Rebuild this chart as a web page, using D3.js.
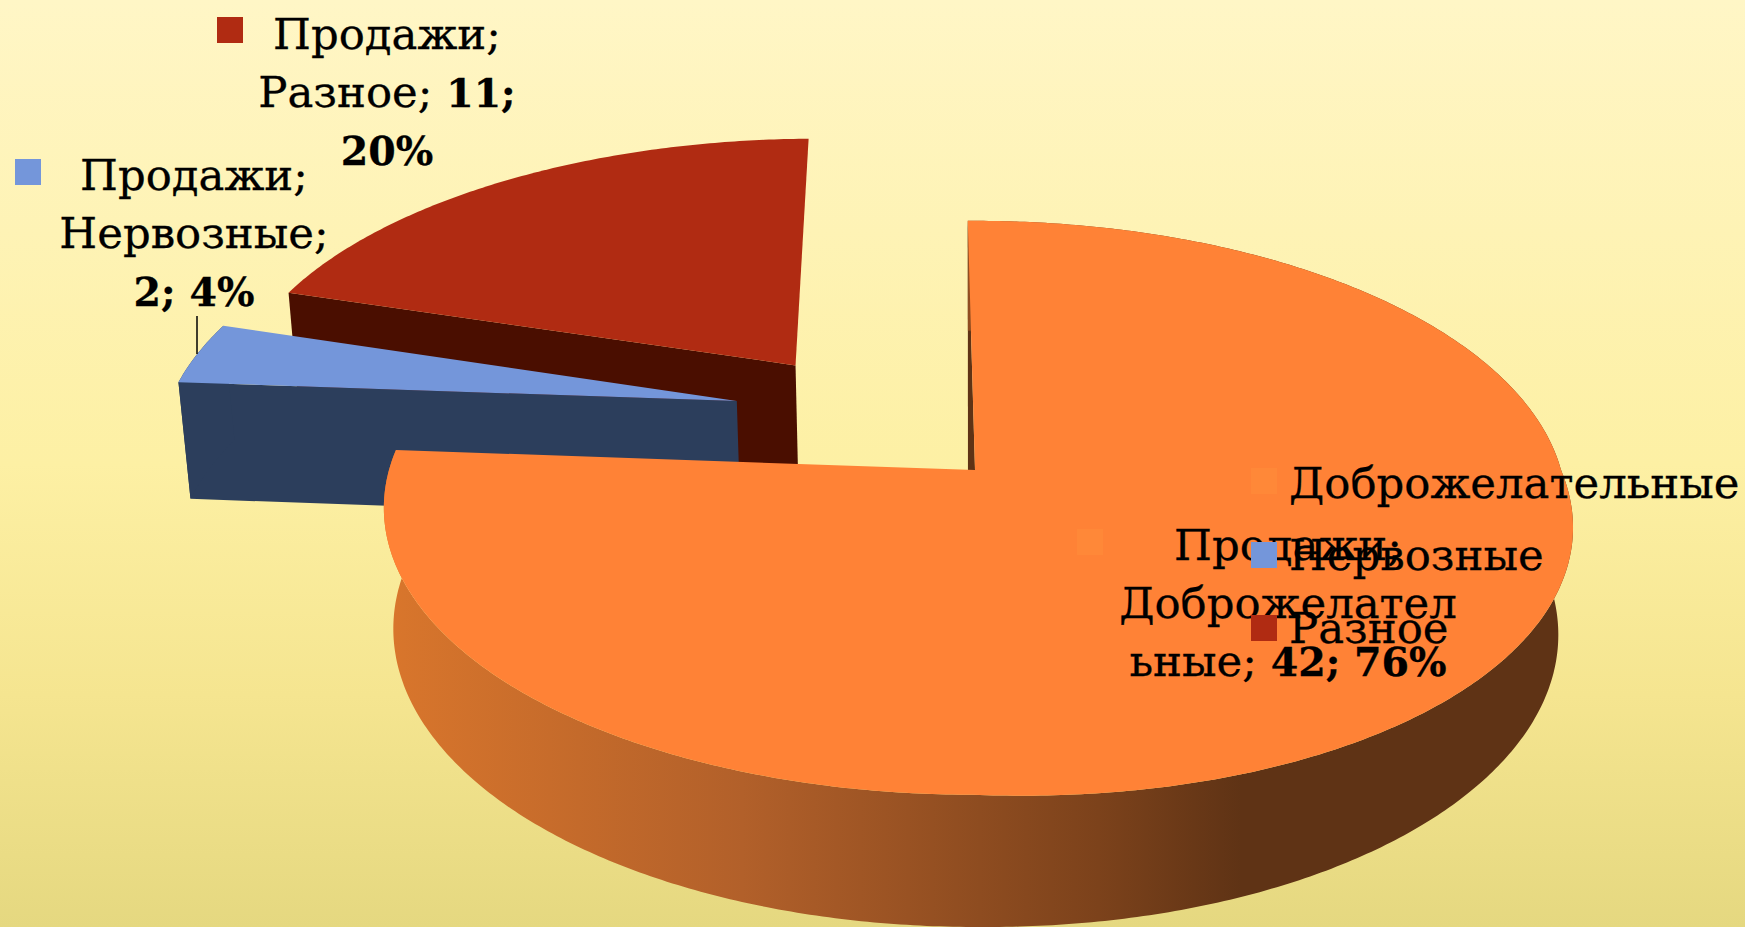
<!DOCTYPE html>
<html>
<head>
<meta charset="utf-8">
<script src="https://cdn.jsdelivr.net/npm/d3@7"></script>
<style>
    html, body { margin: 0; padding: 0; overflow: hidden; }
    svg { display: block; }
    text { font-family: "DejaVu Serif", serif; fill: #000; stroke: #000; stroke-width: 0.3px; }
</style>
</head>
<body>
<div id="chart"></div>
<script>
const seriesName = "Продажи";
const categories = ["Доброжелательные", "Нервозные", "Разное"];
const values = [42, 2, 11];
// how far each slice was pulled out of the pie, in pie radii
const pullX = [0, -0.42, -0.322];
const pullY = [0, -0.2528, -0.39];

const width = 1745, height = 927;
const topColors = ["#ff8236", "#7496da", "#b02b12"];
const sideColors = ["#5f3315", "#2c3e5c", "#4a0e00"];
const markerColors = ["#ff8838", "#7496da", "#b02b12"];

const svg = d3.select("#chart").append("svg")
    .attr("width", width)
    .attr("height", height);

const defs = svg.append("defs");

const bg = defs.append("linearGradient")
    .attr("id", "bg")
    .attr("x1", 0).attr("y1", 0).attr("x2", 0).attr("y2", 1);
bg.append("stop").attr("offset", "0%").attr("stop-color", "#fff6c6");
bg.append("stop").attr("offset", "50%").attr("stop-color", "#fdf0a4");
bg.append("stop").attr("offset", "75%").attr("stop-color", "#f5e590");
bg.append("stop").attr("offset", "100%").attr("stop-color", "#e5d880");

const wall = defs.append("linearGradient")
    .attr("id", "wall")
    .attr("gradientUnits", "userSpaceOnUse")
    .attr("x1", 386).attr("y1", 0).attr("x2", 1574).attr("y2", 0);
wall.append("stop").attr("offset", "0%").attr("stop-color", "#d9762c");
wall.append("stop").attr("offset", "30%").attr("stop-color", "#b2602a");
wall.append("stop").attr("offset", "60%").attr("stop-color", "#7c421b");
wall.append("stop").attr("offset", "72%").attr("stop-color", "#5f3315");
wall.append("stop").attr("offset", "100%").attr("stop-color", "#5f3315");

svg.append("rect")
    .attr("width", width)
    .attr("height", height)
    .attr("fill", "url(#bg)");

// perspective pie: u, v on the pie plane in radii, z = 0 top face, z = 1 bottom face
const centerX = 975, centerY = 470;
const scaleU = d3.scaleLinear().domain([0, 1]).range([0, 586]);
const scaleV = d3.scaleLinear().domain([0, 1]).range([0, 282]);
const scaleZ = d3.scaleLinear().domain([0, 1]).range([0, 122]);

function project(u, v, z) {
    const w = 1 - 0.1318 * v + 0.016 * z;
    return [centerX + scaleU(u) / w, centerY + (scaleV(v) + scaleZ(z)) / w];
}

const pie = d3.pie()
    .sort(null)
    .startAngle(-0.8 * Math.PI / 180)
    .endAngle(2 * Math.PI - 0.8 * Math.PI / 180);
const arcs = pie(values);

const line = d3.line();

// d3.pie measures clockwise from 12 o'clock
function rimPoints(d, i, z) {
    const n = Math.ceil((d.endAngle - d.startAngle) / 0.01);
    return d3.range(n + 1).map(k => {
        const a = d.startAngle + (d.endAngle - d.startAngle) * k / n;
        let s = Math.sin(a), c = -Math.cos(a);
        // the front right of the big slice is a bit fuller than a true circle
        if (s > 0 && c > 0) {
            const bulge = 1 + (z === 0 ? 0.035 : 0.01) * 2 * s * c;
            s *= bulge;
            c *= bulge;
        }
        return project(pullX[i] + s, pullY[i] + c, z);
    });
}

function drawSlice(i) {
    const d = arcs[i];
    const apexTop = project(pullX[i], pullY[i], 0);
    const apexBottom = project(pullX[i], pullY[i], 1);
    const rimTop = rimPoints(d, i, 0);
    const rimBottom = rimPoints(d, i, 1);
    const g = svg.append("g");

    if (i === 0) {
        // the start wall of the big slice shows only as a thin sliver
        g.append("path")
            .attr("d", line([rimTop[0], project(pullX[i] - 0.012, pullY[i], 0), apexTop]) + "Z")
            .attr("fill", sideColors[i]);
    } else {
        // the pulled slices show their start wall, it faces the viewer
        g.append("path")
            .attr("d", line([apexTop, rimTop[0], rimBottom[0], apexBottom]) + "Z")
            .attr("fill", sideColors[i]);
    }

    // outer wall, the red slice has its rim at the back so nothing of it shows
    if (i !== 2) {
        g.append("path")
            .attr("d", line(rimTop.concat(rimBottom.slice().reverse())) + "Z")
            .attr("fill", i === 0 ? "url(#wall)" : sideColors[i]);
    }

    // top face
    g.append("path")
        .attr("d", line([apexTop].concat(rimTop)) + "Z")
        .attr("fill", topColors[i]);
}

// back to front
drawSlice(2);
drawSlice(1);
drawSlice(0);

// leader line of the small slice
svg.append("line")
    .attr("x1", 197).attr("x2", 197)
    .attr("y1", 316).attr("y2", 354)
    .attr("stroke", "#000")
    .attr("stroke-width", 1.5);

const pct = d3.format(".0%");
const total = d3.sum(values);
const fontSize = 43.4, boldSize = 39.5;

function addLine(parent, x, y, parts) {
    const t = parent.append("text")
        .attr("x", x)
        .attr("y", y)
        .attr("text-anchor", "middle")
        .attr("font-size", fontSize);
    parts.forEach(p => {
        t.append("tspan")
            .attr("font-weight", p[1] ? "bold" : "normal")
            .attr("font-size", p[1] ? boldSize : fontSize)
            .text(p[0]);
    });
}

function marker(x, y, color) {
    svg.append("rect")
        .attr("x", x).attr("y", y)
        .attr("width", 26).attr("height", 26)
        .attr("fill", color);
}

const labels = svg.append("g");
const val = i => values[i] + "; " + pct(values[i] / total);

// Разное
marker(217, 17, markerColors[2]);
addLine(labels, 387, 49, [["   " + seriesName + ";", false]]);
addLine(labels, 387, 107, [[categories[2] + "; ", false], [values[2] + ";", true]]);
addLine(labels, 387, 165, [[pct(values[2] / total), true]]);

// Нервозные
marker(15, 159, markerColors[1]);
addLine(labels, 194, 190, [["   " + seriesName + ";", false]]);
addLine(labels, 194, 248, [[categories[1] + ";", false]]);
addLine(labels, 194, 306, [[val(1), true]]);

// Доброжелательные
marker(1077, 529, markerColors[0]);
addLine(labels, 1288, 560, [["   " + seriesName + ";", false]]);
addLine(labels, 1288, 618, [[categories[0].slice(0, 12), false]]);
addLine(labels, 1288, 676, [[categories[0].slice(12) + "; ", false], [val(0), true]]);

// legend
const legendMarkerY = [468, 542, 615];
const legendBaseline = [498, 570, 643];
categories.forEach((c, i) => {
    marker(1251, legendMarkerY[i], markerColors[i]);
    svg.append("text")
        .attr("x", 1289)
        .attr("y", legendBaseline[i])
        .attr("font-size", fontSize)
        .text(c);
});
</script>
</body>
</html>
